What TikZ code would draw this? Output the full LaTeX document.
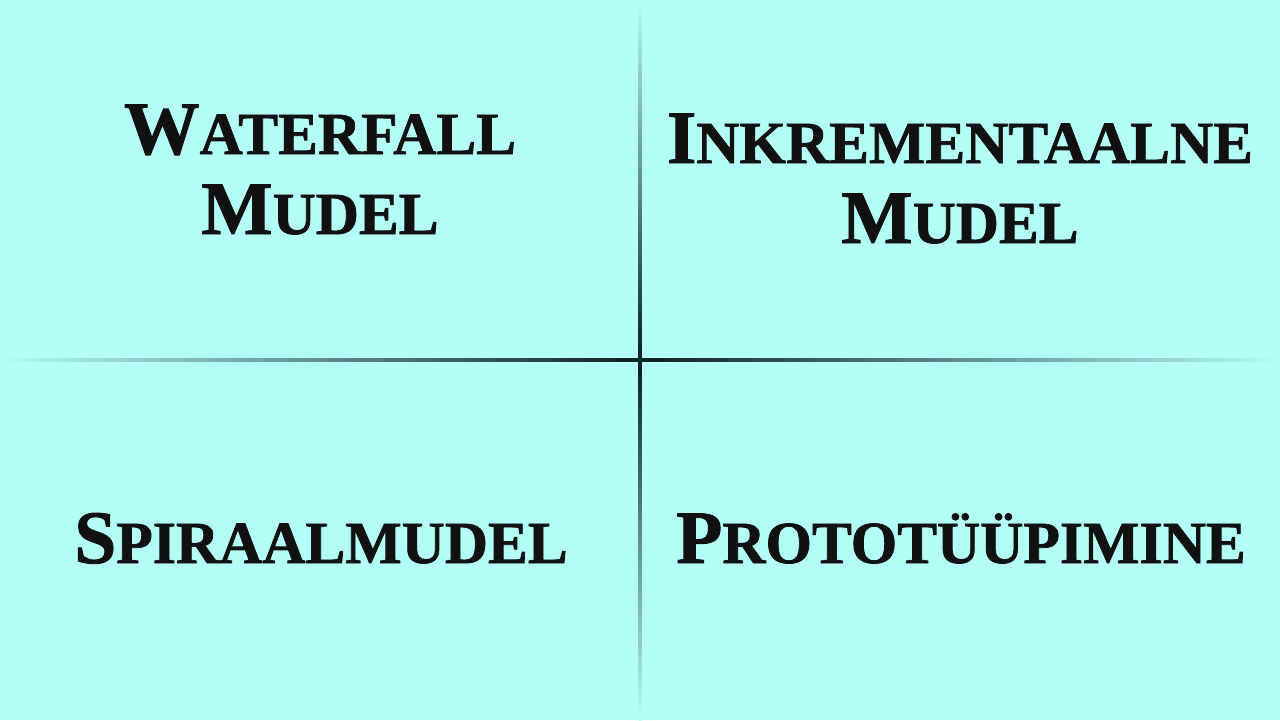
\documentclass[tikz,border=0pt]{standalone}
\usepackage{fontspec}
\setmainfont{Liberation Serif}
\newfontfamily\copfont[FakeBold=1.2]{Liberation Serif Bold}
\definecolor{bg}{HTML}{B3FFF6}
\definecolor{linedark}{HTML}{0A1E1E}
\definecolor{ink}{HTML}{111111}
\newcommand\capA[1]{{\fontsize{21.5}{22.76}\selectfont #1}}
\newcommand\capB[1]{{\fontsize{17}{22.76}\selectfont #1}}
\tikzset{
  label/.style={font=\copfont\fontsize{21.5}{22.76}\selectfont, text=ink, align=center, inner sep=0pt, anchor=base},
}
\begin{document}
\begin{tikzpicture}[x=0.1mm,y=-0.1mm]
\fill[bg] (0,0) rectangle (1280,720);
\useasboundingbox (0,0) rectangle (1280,720);
% horizontal line
\shade[left color=bg, right color=linedark] (0,358.5) rectangle (640,361.5);
\shade[left color=linedark, right color=bg] (640,358.5) rectangle (1280,361.5);
% vertical line
\shade[top color=bg, bottom color=linedark] (638.5,0) rectangle (641.5,360);
\shade[top color=linedark, bottom color=bg] (638.5,360) rectangle (641.5,720);
% labels
\node[label] (wf) at (320,234) {\capA{W}\capB{ATERFALL}\\\capA{M}\capB{UDEL}};
\node[label] (inc) at (960,243) {\capA{I}\capB{NKREMENTAALNE}\\\capA{M}\capB{UDEL}};
\node[label] (spi) at (321,563) {\capA{S}\capB{PIRAALMUDEL}};
\node[label] (pro) at (961,563) {\capA{P}\capB{ROTOTÜÜPIMINE}};
\end{tikzpicture}
\end{document}
